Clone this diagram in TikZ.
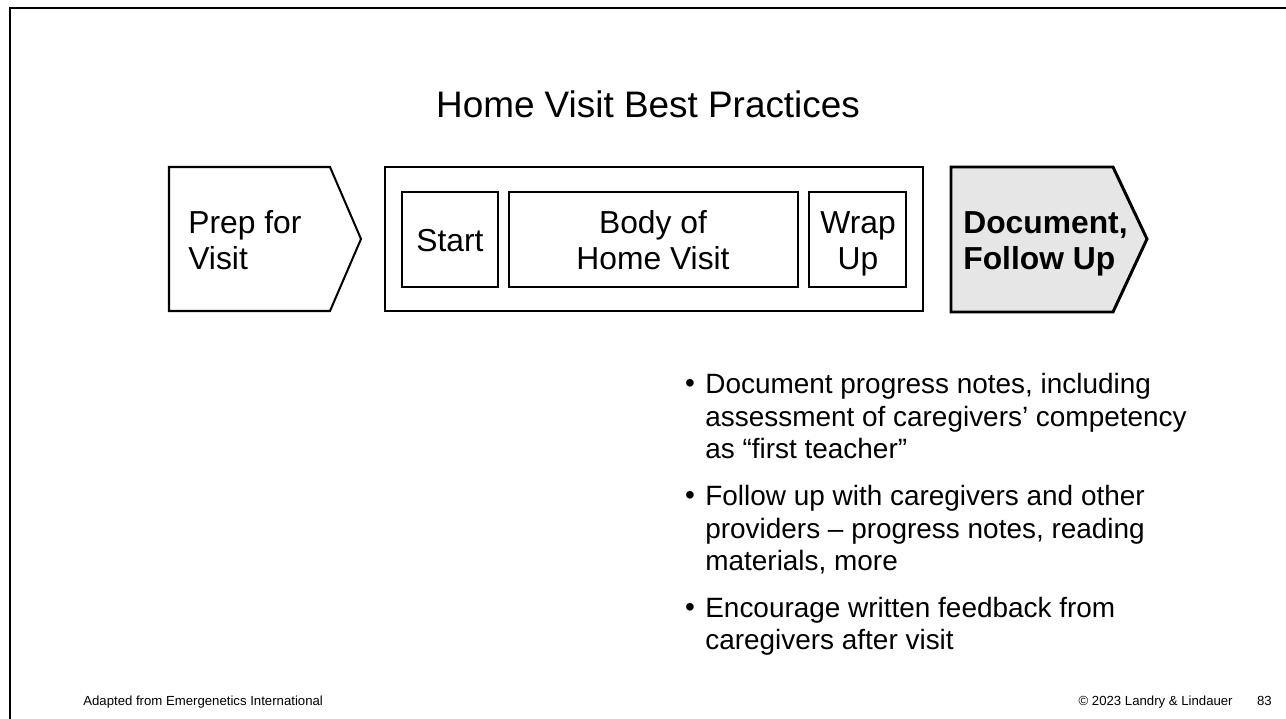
\documentclass[tikz,border=0pt]{standalone}
\usepackage{fontspec}
\setmainfont{Liberation Sans}
\usetikzlibrary{calc}
\definecolor{stepgray}{RGB}{230,230,230}

\begin{document}
\begin{tikzpicture}[x=0.02cm,y=-0.02cm,line join=miter,
    thinline/.style={line width=1.15pt},
    thickline/.style={line width=1.7pt},
    boxtext/.style={font=\fontsize{18.1}{21}\selectfont,inner sep=0pt},
    bullettext/.style={font=\fontsize{15.9}{18.7}\selectfont,inner sep=0pt,align=left},
    foottext/.style={font=\fontsize{7.5}{9}\selectfont,inner sep=0pt}]
  \def\Top{167}  % top of the step row
  \def\Bot{311}  % bottom of the step row
  \def\Mid{239}  % tip height of the arrows
  \useasboundingbox (0,0) rectangle (1286,719);
  % slide frame
  \draw[thickline] (10,719) -- (10,8) -- (1286,8);
  % title
  \node[font=\fontsize{21}{25}\selectfont,inner sep=0pt,anchor=base] (title) at (648,118)
     {Home Visit Best Practices};
  % step 1: prep
  \coordinate (p1) at (169,\Top);
  \coordinate (p2) at (330,\Top);
  \coordinate (p3) at (361,\Mid);
  \coordinate (p4) at (330,\Bot);
  \coordinate (p5) at (169,\Bot);
  \draw[thinline] (p1) -- (p2) -- (p3) -- (p4) -- (p5) -- cycle;
  \node[boxtext,anchor=base west,align=left] (prep) at (188,270) {Prep for\\Visit};
  % step 2: the visit itself
  \draw[thinline] (385,\Top) rectangle (923,\Bot);
  \draw[thinline] (402,192) rectangle (498,287);
  \draw[thinline] (509,192) rectangle (798,287);
  \draw[thinline] (809,192) rectangle (906,287);
  \node[boxtext,anchor=base] (start) at (450,252) {Start};
  \node[boxtext,anchor=base,align=center] (body) at (653,270) {Body of\\Home Visit};
  \node[boxtext,anchor=base,align=center] (wrap) at (858,270) {Wrap\\Up};
  % step 3: document (highlighted)
  \coordinate (d1) at (951,\Top);
  \coordinate (d2) at (1113,\Top);
  \coordinate (d3) at (1147,\Mid);
  \coordinate (d4) at (1113,312);
  \coordinate (d5) at (951,312);
  \draw[thickline,fill=stepgray] (d1) -- (d2) -- (d3) -- (d4) -- (d5) -- cycle;
  \node[boxtext,anchor=base west,align=left,font=\fontsize{18.1}{21}\selectfont\bfseries] (doc) at (963,270)
     {Document,\\Follow Up};
  % bullets
  \node[bullettext,anchor=base] (dot1) at (690,393) {\textbullet};
  \node[bullettext,anchor=base west] (item1) at (705,459)
     {Document progress notes, including\\assessment of caregivers’ competency\\as “first teacher”};
  \node[bullettext,anchor=base] (dot2) at (690,505) {\textbullet};
  \node[bullettext,anchor=base west] (item2) at (705,571)
     {Follow up with caregivers and other\\providers – progress notes, reading\\materials, more};
  \node[bullettext,anchor=base] (dot3) at (690,617) {\textbullet};
  \node[bullettext,anchor=base west] (item3) at (705,650)
     {Encourage written feedback from\\caregivers after visit};
  % footer
  \node[foottext,anchor=base west] (source) at (83,705) {Adapted from Emergenetics International};
  \node[foottext,anchor=base east] (copy) at (1233,705) {© 2023 Landry \& Lindauer};
  \node[foottext,anchor=base east] (page) at (1272,705) {83};
\end{tikzpicture}
\end{document}
